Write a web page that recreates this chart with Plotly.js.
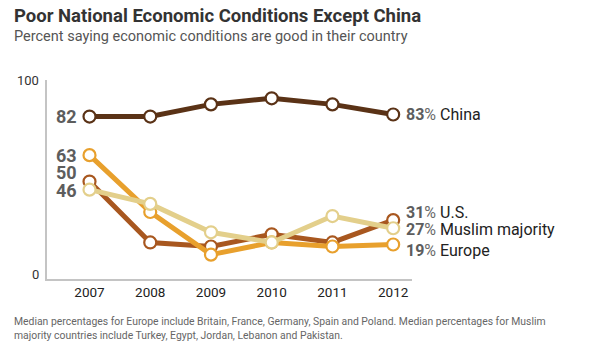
<!DOCTYPE html>
<html>
<head>
<meta charset="utf-8">
<script src="https://cdn.plot.ly/plotly-3.0.1.min.js"></script>
<style>html,body{margin:0;padding:0;background:#fff;}#chart{width:600px;height:350px;}</style>
</head>
<body>
<div id="chart"></div>
<script>
var years = [2007, 2008, 2009, 2010, 2011, 2012];
var china = [82, 82, 88, 91, 88, 83];
var us = [50, 20, 18, 24, 20, 31];
var europe = [63, 35, 14, 20, 18, 19];
var muslim = [46, 39, 25, 20, 33, 27];
var seriesNames = ["China", "U.S.", "Muslim majority", "Europe"];
var seriesColors = ["#5a3216", "#a8571f", "#e8a02d", "#e3cf8b"];

var F = "Roboto, 'Open Sans', sans-serif";

function tr(y, name, color) {
  return {
    x: years, y: y, name: name, type: "scatter", mode: "lines+markers",
    line: {color: color, width: 5},
    marker: {size: 12, color: "#ffffff", line: {color: color, width: 2.2}},
    cliponaxis: false, hoverinfo: "skip"
  };
}
var data = [
  tr(us, seriesNames[1], seriesColors[1]),
  tr(europe, seriesNames[3], seriesColors[2]),
  tr(muslim, seriesNames[2], seriesColors[3]),
  tr(china, seriesNames[0], seriesColors[0])
];

var ann = [];
// left start labels
function leftLab(v, shift) {
  ann.push({x: years[0], y: v, xref: "x", yref: "y", text: "<b>" + v + "</b>",
    showarrow: false, xanchor: "right", yanchor: "middle", xshift: -11, yshift: shift || 0,
    font: {family: F, size: 18, color: "#5d5d5d"}});
}
leftLab(china[0]); leftLab(europe[0]); leftLab(us[0], 9); leftLab(muslim[0], -1);
// right end labels
function rightLab(v, name, shift) {
  ann.push({x: years[5], y: v, xref: "x", yref: "y",
    text: "<b>" + v + "</b><span style='color:#6a6a6a'>%</span> <span style='color:#222'>" + name + "</span>",
    showarrow: false, xanchor: "left", yanchor: "middle", xshift: 11, yshift: shift || 0,
    font: {family: F, size: 16, color: "#5d5d5d"}});
}
rightLab(china[5], seriesNames[0], 0);
rightLab(us[5], seriesNames[1], 8);
rightLab(muslim[5], seriesNames[2], -1);
rightLab(europe[5], seriesNames[3], -6);
// y axis end labels
ann.push({x: 0, y: 100, xref: "paper", yref: "y", text: "100", showarrow: false,
  xanchor: "right", yanchor: "middle", xshift: -6, font: {family: F, size: 13, color: "#333"}});
ann.push({x: 0, y: 4, xref: "paper", yref: "y", text: "0", showarrow: false,
  xanchor: "right", yanchor: "middle", xshift: -6, font: {family: F, size: 13, color: "#333"}});
// title, subtitle, note
ann.push({x: 12, y: 3, xref: "pixel", yref: "pixel", text: "<b>Poor National Economic Conditions Except China</b>",
  showarrow: false, xanchor: "left", yanchor: "top", font: {family: F, size: 18.5, color: "#333"}});
ann.push({x: 12, y: 26, text: "Percent saying economic conditions are good in their country",
  showarrow: false, xanchor: "left", yanchor: "top", font: {family: F, size: 14.5, color: "#555"}});
ann.push({x: 12, y: 313, text: "Median percentages for Europe include Britain, France, Germany, Spain and Poland. Median percentages for Muslim<br>majority countries include Turkey, Egypt, Jordan, Lebanon and Pakistan.",
  showarrow: false, xanchor: "left", yanchor: "top", align: "left", font: {family: F, size: 10.4, color: "#666"}});

// convert pixel annotations to paper coords
var W = 600, H = 350, mL = 47, mR = 188, mT = 80, mB = 71;
var pw = W - mL - mR, ph = H - mT - mB;
ann.forEach(function (a) {
  if (a.xref === undefined || a.xref === "pixel") {
    a.xref = "paper"; a.yref = "paper";
    a.x = (a.x - mL) / pw;
    a.y = (H - mB - a.y) / ph;
  }
});

var layout = {
  width: W, height: H,
  margin: {l: mL, r: mR, t: mT, b: mB},
  paper_bgcolor: "#fff", plot_bgcolor: "#fff",
  showlegend: false,
  xaxis: {range: [2006.3, 2012.31], tickvals: years, ticktext: years.map(String),
    showgrid: false, zeroline: false, showline: true, linecolor: "#c4c4c4", linewidth: 2,
    ticks: "", tickfont: {family: F, size: 13.5, color: "#222"}, fixedrange: true},
  yaxis: {range: [2, 100], showgrid: false, zeroline: false, showline: true,
    linecolor: "#c4c4c4", linewidth: 2, showticklabels: false, ticks: "", fixedrange: true},
  annotations: ann,
  font: {family: F}
};
Plotly.newPlot("chart", data, layout, {displayModeBar: false, staticPlot: true});
</script>
</body>
</html>
